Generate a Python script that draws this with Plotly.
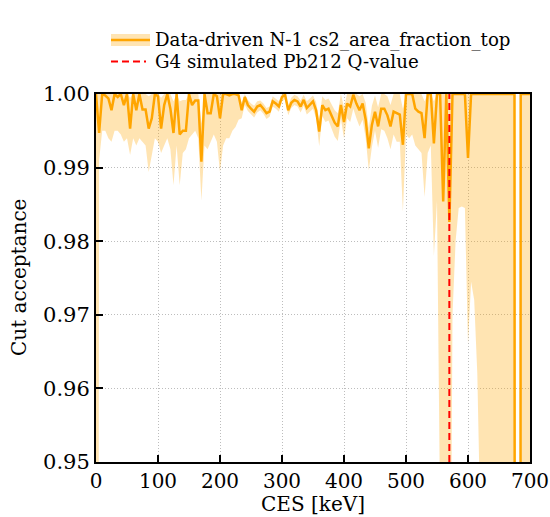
import plotly.graph_objects as go

# CES bin centres [keV]
ces = list(range(0, 705, 5))

# cut acceptance (central), lower and upper band edges
acc = [
    1.0000, 0.9947, 1.0000, 0.9998, 0.9994, 0.9978, 1.0000, 0.9996, 1.0000, 0.9985,
    1.0000, 0.9953, 1.0000, 0.9978, 1.0000, 0.9979, 0.9979, 0.9953, 0.9967, 1.0000,
    0.9997, 0.9953, 0.9985, 1.0000, 0.9980, 0.9947, 1.0000, 0.9945, 0.9950, 0.9950,
    1.0000, 0.9985, 0.9991, 0.9991, 0.9908, 1.0000, 0.9974, 0.9974, 1.0000, 0.9997,
    0.9967, 1.0000, 1.0000, 0.9998, 1.0000, 1.0000, 0.9998, 0.9978, 0.9996, 0.9985,
    0.9980, 0.9976, 0.9983, 0.9985, 0.9980, 0.9974, 0.9976, 0.9990, 0.9987, 0.9983,
    0.9996, 0.9999, 0.9978, 0.9988, 0.9992, 0.9990, 0.9983, 0.9992, 0.9981, 0.9985,
    0.9990, 0.9978, 0.9949, 0.9985, 0.9978, 0.9980, 0.9970, 0.9961, 0.9956, 0.9985,
    0.9962, 0.9987, 0.9983, 0.9999, 0.9987, 0.9978, 0.9987, 0.9965, 0.9926, 0.9958,
    0.9976, 0.9956, 0.9980, 0.9980, 0.9971, 0.9956, 0.9976, 0.9974, 0.9972, 0.9931,
    1.0000, 1.0000, 1.0000, 0.9980, 0.9976, 0.9974, 0.9940, 1.0000, 1.0000, 0.9933,
    1.0000, 1.0000, 0.9854, 1.0000, 0.9826, 1.0000, 1.0000, 1.0000, 1.0000, 1.0000,
    0.9913, 1.0000, 1.0000, 1.0000, 1.0000, 1.0000, 1.0000, 1.0000, 1.0000, 1.0000,
    1.0000, 1.0000, 1.0000, 1.0000, 1.0000, 1.0000, 0.0000, 1.0000, 1.0000, 1.0000,
    1.0000,
]

acc_lo = [
    0.6000, 0.9910, 0.9950, 0.9950, 0.9940, 0.9935, 0.9950, 0.9950, 0.9945, 0.9935,
    0.9940, 0.9917, 0.9940, 0.9930, 0.9940, 0.9935, 0.9930, 0.9894, 0.9920, 0.9940,
    0.9935, 0.9920, 0.9930, 0.9940, 0.9925, 0.9876, 0.9930, 0.9876, 0.9920, 0.9925,
    0.9940, 0.9945, 0.9950, 0.9940, 0.9855, 0.9930, 0.9925, 0.9935, 0.9945, 0.9935,
    0.9894, 0.9930, 0.9940, 0.9940, 0.9950, 0.9955, 0.9965, 0.9967, 0.9985, 0.9977,
    0.9972, 0.9968, 0.9975, 0.9978, 0.9973, 0.9966, 0.9969, 0.9983, 0.9980, 0.9976,
    0.9990, 0.9993, 0.9971, 0.9981, 0.9985, 0.9983, 0.9975, 0.9984, 0.9972, 0.9976,
    0.9980, 0.9967, 0.9929, 0.9970, 0.9962, 0.9964, 0.9952, 0.9942, 0.9936, 0.9966,
    0.9940, 0.9967, 0.9962, 0.9980, 0.9967, 0.9956, 0.9965, 0.9940, 0.9896, 0.9928,
    0.9950, 0.9927, 0.9952, 0.9950, 0.9940, 0.9925, 0.9945, 0.9935, 0.9935, 0.9840,
    0.9945, 0.9940, 0.9945, 0.9930, 0.9925, 0.9920, 0.9860, 0.9920, 0.9930, 0.9780,
    0.9855, 0.9400, 0.9000, 0.9200, 0.9000, 0.9700, 0.9800, 0.9845, 0.9847, 0.9845,
    0.9660, 0.9745, 0.9720, 0.9620, 0.9000, 0.9000, 0.9000, 0.9000, 0.9000, 0.9000,
    0.9000, 0.9000, 0.9000, 0.9000, 0.9000, 0.9000, 0.0000, 0.9000, 0.9000, 0.9000,
    0.9000,
]

acc_hi = [
    1.0000, 1.0000, 1.0000, 1.0000, 1.0000, 1.0000, 1.0000, 1.0000, 1.0000, 1.0000,
    1.0000, 0.9995, 1.0000, 1.0000, 1.0000, 1.0000, 1.0000, 0.9997, 1.0000, 1.0000,
    1.0000, 0.9995, 1.0000, 1.0000, 1.0000, 0.9990, 1.0000, 0.9990, 0.9992, 0.9992,
    1.0000, 1.0000, 1.0000, 1.0000, 0.9960, 1.0000, 1.0000, 1.0000, 1.0000, 1.0000,
    1.0000, 1.0000, 1.0000, 1.0000, 1.0000, 1.0000, 1.0000, 0.9988, 1.0000, 0.9992,
    0.9987, 0.9984, 0.9990, 0.9991, 0.9987, 0.9981, 0.9983, 0.9997, 0.9994, 0.9990,
    1.0000, 1.0000, 0.9985, 0.9995, 0.9999, 0.9997, 0.9991, 0.9999, 0.9990, 0.9994,
    0.9998, 0.9989, 0.9965, 0.9997, 0.9992, 0.9994, 0.9986, 0.9978, 0.9974, 1.0000,
    0.9982, 1.0000, 1.0000, 1.0000, 1.0000, 0.9997, 1.0000, 0.9988, 0.9954, 0.9984,
    0.9998, 0.9982, 1.0000, 1.0000, 0.9997, 0.9985, 1.0000, 1.0000, 1.0000, 0.9980,
    1.0000, 1.0000, 1.0000, 1.0000, 1.0000, 1.0000, 0.9990, 1.0000, 1.0000, 0.9990,
    1.0000, 1.0000, 1.0000, 1.0000, 1.0000, 1.0000, 1.0000, 1.0000, 1.0000, 1.0000,
    1.0000, 1.0000, 1.0000, 1.0000, 1.0000, 1.0000, 1.0000, 1.0000, 1.0000, 1.0000,
    1.0000, 1.0000, 1.0000, 1.0000, 1.0000, 1.0000, 0.0000, 1.0000, 1.0000, 1.0000,
    1.0000,
]

q_value = 569.9  # Pb212 Q-value [keV]
x_ticks = [0, 100, 200, 300, 400, 500, 600, 700]
y_ticks = [0.95, 0.96, 0.97, 0.98, 0.99, 1.00]

label_band = "Data-driven N-1 cs2_area_fraction_top"
label_q = "G4 simulated Pb212 Q-value"

ORANGE = "#FFA500"
BAND = "rgba(255,165,0,0.3)"
FONT = "DejaVu Serif"

fig = go.Figure()
fig.add_trace(go.Scatter(x=ces, y=acc_hi, mode="lines", line=dict(width=0, color=BAND),
                         showlegend=False, hoverinfo="skip"))
fig.add_trace(go.Scatter(x=ces, y=acc_lo, mode="lines", line=dict(width=0, color=BAND),
                         fill="tonexty", fillcolor=BAND, showlegend=False, hoverinfo="skip"))
fig.add_trace(go.Scatter(x=ces, y=acc, mode="lines", line=dict(width=2.5, color=ORANGE),
                         name=label_band, showlegend=False))
fig.add_trace(go.Scatter(x=[q_value, q_value], y=[y_ticks[0], y_ticks[-1]], mode="lines",
                         line=dict(width=2, color="#FF0000", dash="7px,4px"),
                         name=label_q, showlegend=False))

axis_common = dict(
    showline=True, linecolor="black", linewidth=2, mirror=True,
    ticks="inside", ticklen=7, tickwidth=2, tickcolor="black",
    showgrid=True, gridcolor="#bdbdbd", gridwidth=1, griddash="1px,2px",
    zeroline=False, automargin=False,
)

fig.update_xaxes(range=[0, 700], tickvals=x_ticks,
                 tickfont=dict(family=FONT, size=20, color="black"), **axis_common)
fig.update_yaxes(range=[0.95, 1.0], tickvals=y_ticks, tickformat=".2f",
                 tickfont=dict(family=FONT, size=21, color="black"), **axis_common)

# manual legend (matplotlib style) in paper coordinates
def px_x(p):
    return (p - 96) / 434.0

def px_y(p):
    return (462 - p) / 368.0

shapes = [
    dict(type="rect", xref="paper", yref="paper", x0=px_x(111), x1=px_x(150),
         y0=px_y(46), y1=px_y(34), fillcolor=BAND, line=dict(width=0)),
    dict(type="line", xref="paper", yref="paper", x0=px_x(111), x1=px_x(150),
         y0=px_y(40), y1=px_y(40), line=dict(color=ORANGE, width=2.5)),
    dict(type="line", xref="paper", yref="paper", x0=px_x(111), x1=px_x(146),
         y0=px_y(61.5), y1=px_y(61.5), line=dict(color="#FF0000", width=2, dash="7px,4px")),
]

annotations = [
    dict(text=label_band, xref="paper", yref="paper", x=px_x(153), y=px_y(40),
         xanchor="left", yanchor="middle", showarrow=False,
         font=dict(family=FONT, size=18.2, color="black")),
    dict(text=label_q, xref="paper", yref="paper", x=px_x(153), y=px_y(61.5),
         xanchor="left", yanchor="middle", showarrow=False,
         font=dict(family=FONT, size=18.2, color="black")),
    dict(text="Cut acceptance", xref="paper", yref="paper", x=px_x(19), y=0.5,
         xanchor="center", yanchor="middle", textangle=-90, showarrow=False,
         font=dict(family=FONT, size=20, color="black")),
    dict(text="CES [keV]", xref="paper", yref="paper", x=px_x(313), y=px_y(504),
         xanchor="center", yanchor="middle", showarrow=False,
         font=dict(family=FONT, size=20, color="black")),
]

fig.update_layout(
    width=550, height=517,
    margin=dict(l=96, r=20, t=94, b=55),
    paper_bgcolor="white", plot_bgcolor="white",
    showlegend=False,
    shapes=shapes, annotations=annotations,
    font=dict(family=FONT, color="black"),
)

fig.write_html(
    "out.html",
    config={"displayModeBar": False},
    post_script="document.body.style.margin='0px';document.body.style.overflow='hidden';",
)
